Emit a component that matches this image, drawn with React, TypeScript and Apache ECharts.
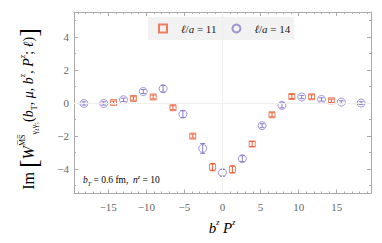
import React, { useEffect, useRef } from "react";
import * as echarts from "echarts";

const redX = [-14.3, -11.7, -9.1, -6.5, -3.9, -1.3, 1.3, 3.9, 6.5, 9.1, 11.7, 14.3];
const redY = [0.02, 0.26, 0.35, -0.3, -2.02, -3.9, -4.04, -2.5, -0.73, 0.38, 0.36, 0.12];
const redErr = [0.08, 0.1, 0.12, 0.12, 0.12, 0.22, 0.22, 0.15, 0.12, 0.12, 0.12, 0.1];

const blueX = [-18.2, -15.6, -13.0, -10.4, -7.8, -5.2, -2.6, 0, 2.6, 5.2, 7.8, 10.4, 13.0, 15.6, 18.2];
const blueY = [-0.04, -0.04, 0.18, 0.68, 0.85, -0.69, -2.77, -4.24, -3.39, -1.39, -0.16, 0.35, 0.2, 0.04, -0.02];
const blueErr = [0.1, 0.1, 0.1, 0.12, 0.2, 0.2, 0.3, 0.2, 0.18, 0.12, 0.15, 0.1, 0.1, 0.08, 0.08];

const seriesNames = ["l11", "l14"];
const legendLabels: Record<string, string> = { l11: "11", l14: "14" };

const RED = "#e8603a";
const BLUE = "#8a7dcc";
const FRAME = "#ababab";
const SERIF = "'Liberation Serif', 'DejaVu Serif', serif";

function errRender(color: string) {
  return (params: any, api: any) => {
    const x = api.value(0);
    const y = api.value(1);
    const e = api.value(2);
    const top = api.coord([x, y + e]);
    const bot = api.coord([x, y - e]);
    const hw = 2.5;
    const st = { stroke: color, lineWidth: 1 };
    return {
      type: "group",
      children: [
        { type: "line", shape: { x1: top[0], y1: top[1], x2: bot[0], y2: bot[1] }, style: st },
        { type: "line", shape: { x1: top[0] - hw, y1: top[1], x2: top[0] + hw, y2: top[1] }, style: st },
        { type: "line", shape: { x1: bot[0] - hw, y1: bot[1], x2: bot[0] + hw, y2: bot[1] }, style: st },
      ],
    };
  };
}

export default function App() {
  const ref = useRef<HTMLDivElement>(null);
  useEffect(() => {
    if (!ref.current) return;
    const chart = echarts.init(ref.current, null, { renderer: "svg" });
    const redData = redX.map((x, i) => [x, redY[i], redErr[i]]);
    const blueData = blueX.map((x, i) => [x, blueY[i], blueErr[i]]);
    const axisCommon = {
      type: "value",
      axisLine: { show: true, onZero: false, lineStyle: { color: FRAME, width: 1 } },
      axisTick: { show: true, inside: true, length: 4, lineStyle: { color: FRAME } },
      minorTick: { show: true, length: 2, lineStyle: { color: FRAME } },
      splitLine: { show: false },
      axisLabel: {
        show: true,
        showMinLabel: false,
        showMaxLabel: false,
        color: "#666",
        fontFamily: SERIF,
        fontSize: 11,
        formatter: (v: number) => String(v).replace("-", "\u2212"),
      },
    };
    const xCommon = { ...axisCommon, min: -19.5, max: 19.5, splitNumber: 8, minorTick: { ...axisCommon.minorTick, splitNumber: 5 } };
    const yCommon = { ...axisCommon, min: -5.5, max: 5.5, splitNumber: 5, minorTick: { ...axisCommon.minorTick, splitNumber: 2 } };
    const sub = { fontSize: 8, fontFamily: SERIF, color: "#111", verticalAlign: "bottom", lineHeight: 20 };
    const sup = { fontSize: 8, fontFamily: SERIF, color: "#111", verticalAlign: "top", lineHeight: 20 };
    const txt = { fontSize: 14, fontFamily: SERIF, color: "#111", lineHeight: 20 };
    const it = { fontSize: 14, fontFamily: SERIF, fontStyle: "italic", color: "#111", lineHeight: 20 };
    chart.setOption({
      animation: false,
      grid: { left: 74, right: 11, top: 12, bottom: 49.5, show: false },
      xAxis: [
        { ...xCommon, position: "bottom" },
        { ...xCommon, position: "top", axisLabel: { show: false } },
      ],
      yAxis: [
        { ...yCommon, position: "left", axisLabel: { ...axisCommon.axisLabel, margin: 5 } },
        { ...yCommon, position: "right", axisLabel: { show: false } },
      ],
      legend: {
        left: 148,
        top: 17,
        orient: "horizontal",
        backgroundColor: "#f2f2f2",
        padding: [6, 4, 6, 10],
        itemWidth: 8,
        itemHeight: 8,
        itemGap: 15,
        data: [
          { name: "l11", icon: "rect" },
          { name: "l14", icon: "circle" },
        ],
        formatter: (n: string) => `{i|ℓ}{t|/}{i|a}{t| = ${legendLabels[n]}}`,
        textStyle: {
          padding: [0, 0, 0, 9],
          rich: {
            i: { fontFamily: SERIF, fontStyle: "italic", fontSize: 11, color: "#222" },
            t: { fontFamily: SERIF, fontSize: 11, color: "#222" },
          },
        },
      },
      graphic: [
        {
          type: "text",
          x: 28,
          y: 109,
          rotation: Math.PI / 2,
          style: {
            text:
              "{im|Im }{br|[}{w|W}{sup|M\u0305S\u0305}{sub|γ₄γ₅}{t|(}{i|b}{sub|T}{t|, }{i|μ}{t|, }{i|b}{sup|z}{t|, }{i|P}{sup|z}{t|; }{i|ℓ}{t|)}{br|]}",
            align: "center",
            verticalAlign: "middle",
            rich: {
              im: { ...txt, fontSize: 16 },
              br: { ...txt, fontSize: 26, fontWeight: "lighter" },
              w: { ...it, fontSize: 16 },
              i: it,
              t: txt,
              sub,
              sup,
            },
          },
        },
        {
          type: "text",
          x: 222,
          y: 228,
          style: {
            text: "{i|b}{s|z}{i| P}{s|z}",
            align: "center",
            verticalAlign: "middle",
            rich: {
              i: { ...it, fontSize: 15 },
              s: { fontSize: 8, fontFamily: SERIF, fontStyle: "italic", color: "#111", verticalAlign: "top", lineHeight: 20 },
            },
          },
        },
        {
          type: "text",
          x: 83,
          y: 180,
          style: {
            text: "{i|b}{s|T}{t| = 0.6 fm,  }{i|n}{p|z}{t| = 10}",
            align: "left",
            verticalAlign: "middle",
            rich: {
              i: { fontSize: 9.5, fontFamily: SERIF, fontStyle: "italic", color: "#111", lineHeight: 13 },
              t: { fontSize: 9.5, fontFamily: SERIF, color: "#111", lineHeight: 13 },
              s: { fontSize: 6, fontFamily: SERIF, fontStyle: "italic", color: "#111", verticalAlign: "bottom", lineHeight: 13 },
              p: { fontSize: 6, fontFamily: SERIF, fontStyle: "italic", color: "#111", verticalAlign: "top", lineHeight: 13 },
            },
          },
        },
      ],
      series: [
        {
          name: "zero",
          type: "scatter",
          data: [],
          silent: true,
          z: 0,
          markLine: {
            silent: true,
            symbol: "none",
            label: { show: false },
            lineStyle: { color: "#eeeeee", width: 1, type: "solid" },
            data: [{ xAxis: 0 }, { yAxis: 0 }],
          },
        },
        {
          name: "err11",
          type: "custom",
          renderItem: errRender(RED),
          data: redData,
          encode: { x: 0, y: 1 },
          z: 3,
        },
        {
          name: "err14",
          type: "custom",
          renderItem: errRender(BLUE),
          data: blueData,
          encode: { x: 0, y: 1 },
          z: 3,
        },
        {
          name: seriesNames[0],
          type: "scatter",
          symbol: "rect",
          symbolSize: 6,
          data: redData.map((d) => [d[0], d[1]]),
          itemStyle: { color: "rgba(255,255,255,0)", borderColor: RED, borderWidth: 1 },
          z: 4,
        },
        {
          name: seriesNames[1],
          type: "scatter",
          symbol: "circle",
          symbolSize: 8,
          data: blueData.map((d) => [d[0], d[1]]),
          itemStyle: { color: "rgba(255,255,255,0)", borderColor: BLUE, borderWidth: 1 },
          z: 4,
        },
      ],
    });
    return () => chart.dispose();
  }, []);
  return <div ref={ref} style={{ position: "absolute", left: 0, top: 0, width: 382, height: 243 }} />;
}
